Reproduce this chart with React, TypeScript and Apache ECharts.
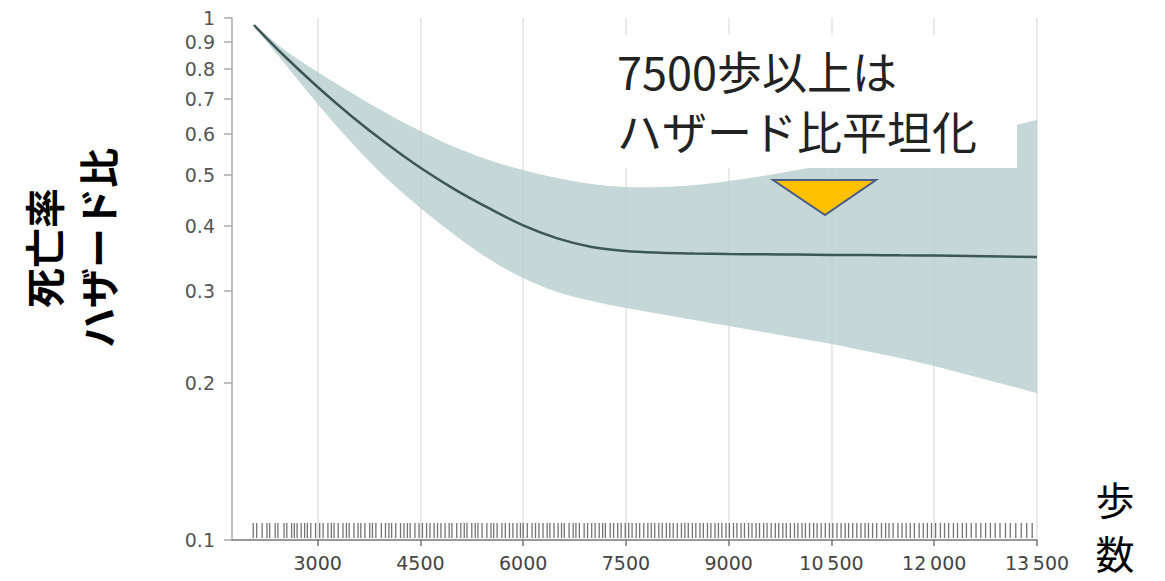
import { useEffect, useRef } from "react";
import * as echarts from "echarts";

// Daily steps (x) and fitted hazard ratio with its 95% confidence band
const steps = [2070, 2500, 3000, 3500, 4000, 4500, 5000, 5500, 6000, 6500, 7000, 7500, 8000, 8500, 9000, 9500, 10000, 10500, 11000, 11500, 12000, 12500, 13000, 13500];
const hazardRatio = [0.9696, 0.8494, 0.7377, 0.6478, 0.5754, 0.5165, 0.4697, 0.4321, 0.4006, 0.3783, 0.3642, 0.3578, 0.3551, 0.3538, 0.353, 0.3527, 0.3522, 0.3517, 0.3515, 0.351, 0.3507, 0.3499, 0.3491, 0.3484];
const upperCI = [0.972, 0.8722, 0.788, 0.7185, 0.6579, 0.6076, 0.566, 0.5344, 0.5113, 0.4936, 0.4808, 0.4745, 0.4745, 0.4787, 0.4872, 0.4981, 0.5113, 0.5251, 0.5416, 0.5586, 0.5762, 0.5942, 0.6156, 0.6378];
const lowerCI = [0.967, 0.8235, 0.6844, 0.5762, 0.4936, 0.4325, 0.384, 0.3454, 0.3177, 0.2986, 0.287, 0.2783, 0.271, 0.2639, 0.257, 0.2503, 0.2437, 0.2374, 0.2302, 0.2232, 0.2154, 0.207, 0.199, 0.1912];

// Individual observations shown as a rug along the bottom
const rugSteps = [
  2060, 2110, 2190, 2260, 2300, 2380, 2420, 2510, 2550, 2620, 2660, 2700, 2760, 2810, 2850, 2900, 2970, 3030, 3080, 3150,
  3200, 3240, 3300, 3370, 3420, 3460, 3530, 3590, 3630, 3690, 3760, 3800, 3850, 3930, 3990, 4040, 4080, 4140, 4210, 4260,
  4310, 4350, 4420, 4480, 4530, 4590, 4640, 4700, 4750, 4800, 4860, 4920, 4960, 5030, 5090, 5140, 5180, 5250, 5300, 5340,
  5400, 5470, 5530, 5570, 5620, 5690, 5740, 5800, 5850, 5910, 5960, 6000, 6060, 6130, 6180, 6230, 6290, 6350, 6390, 6450,
  6510, 6560, 6600, 6670, 6730, 6770, 6820, 6890, 6940, 7000, 7050, 7110, 7160, 7200, 7270, 7320, 7380, 7430, 7490, 7540,
  7590, 7650, 7700, 7760, 7820, 7870, 7920, 7980, 8030, 8090, 8140, 8190, 8250, 8310, 8360, 8410, 8470, 8520, 8580, 8630,
  8690, 8740, 8800, 8850, 8900, 8960, 9010, 9070, 9120, 9180, 9230, 9290, 9340, 9400, 9450, 9510, 9560, 9620, 9680, 9730,
  9790, 9840, 9900, 9960, 10010, 10070, 10120, 10180, 10240, 10290, 10350, 10410, 10470, 10520, 10580, 10640, 10700, 10750,
  10810, 10870, 10930, 10990, 11040, 11100, 11160, 11230, 11290, 11340, 11400, 11470, 11530, 11590, 11650, 11710, 11780,
  11840, 11900, 11960, 12020, 12090, 12150, 12210, 12280, 12340, 12410, 12470, 12540, 12610, 12680, 12750, 12820, 12890,
  12960, 13040, 13110, 13190, 13270, 13350, 13430,
];

const xTicks = [3000, 4500, 6000, 7500, 9000, 10500, 12000, 13500];
const yTicks = [0.1, 0.2, 0.3, 0.4, 0.5, 0.6, 0.7, 0.8, 0.9, 1];
const yTitleLines = ["死亡率", "ハザード比"];
const xTitleChars = ["歩", "数"];
const noteLines = ["7500歩以上は", "ハザード比平坦化"];

const JP = '"Noto Sans CJK JP", "Noto Sans", sans-serif';
const NUM = '"DejaVu Sans", Verdana, sans-serif';
// slightly translucent so the vertical grid lines show faintly through the band
const BAND = "rgba(184,205,206,0.8)";

function formatSteps(v: number): string {
  if (v >= 10000) {
    const th = Math.floor(v / 1000);
    const rest = String(v % 1000).padStart(3, "0");
    return `${th}\u2009${rest}`;
  }
  return String(v);
}

function formatRatio(v: number): string {
  return String(Math.round(v * 10) / 10);
}

export default function App() {
  const ref = useRef<HTMLDivElement>(null);

  useEffect(() => {
    document.body.style.margin = "0";
    const chart = echarts.init(ref.current!, null, { renderer: "svg" });

    const bandData = steps.map((s, i) => [s, lowerCI[i], upperCI[i]]);
    const lineData = steps.map((s, i) => [s, hazardRatio[i]]);
    const rugData = rugSteps.map((s) => [s, 0.1]);

    const graphics: any[] = [
      {
        type: "rect",
        z: 100,
        shape: { x: 608, y: 35, width: 409, height: 133 },
        style: { fill: "#ffffff" },
      },
      {
        type: "polygon",
        z: 101,
        shape: { points: [[773, 180], [876, 180], [825, 215]] },
        style: { fill: "#ffc000", stroke: "#4a5d86", lineWidth: 2 },
      },
    ];
    noteLines.forEach((t, i) => {
      graphics.push({
        type: "text",
        z: 102,
        x: 617,
        y: 70 + i * 60,
        style: {
          text: t,
          fontFamily: JP,
          fontSize: 45,
          fill: "#222",
          textAlign: "left",
          textVerticalAlign: "middle",
        },
      });
    });
    yTitleLines.forEach((t, i) => {
      graphics.push({
        type: "text",
        z: 102,
        x: 43 + i * 54,
        y: 248,
        rotation: Math.PI / 2,
        style: {
          text: t,
          fontFamily: JP,
          fontSize: 40,
          fontWeight: "bold",
          fill: "#000",
          textAlign: "center",
          textVerticalAlign: "middle",
        },
      });
    });
    xTitleChars.forEach((t, i) => {
      graphics.push({
        type: "text",
        z: 102,
        x: 1115,
        y: 498 + i * 54,
        style: {
          text: t,
          fontFamily: JP,
          fontSize: 39,
          fill: "#000",
          textAlign: "center",
          textVerticalAlign: "middle",
        },
      });
    });

    chart.setOption({
      animation: false,
      grid: { left: 232, right: 128, top: 18, bottom: 41, containLabel: false },
      xAxis: {
        type: "value",
        min: 1750,
        max: 13500,
        axisLine: { onZero: false, lineStyle: { color: "#777", width: 1.5 } },
        axisTick: { customValues: xTicks, length: 6, lineStyle: { color: "#777", width: 1.5 } },
        axisLabel: {
          customValues: xTicks,
          formatter: formatSteps,
          color: "#444",
          fontSize: 19,
          fontFamily: NUM,
          margin: 13,
        },
        splitLine: { show: true, lineStyle: { color: "#e3e3e3", width: 1.5 } },
      },
      yAxis: {
        type: "log",
        logBase: 10,
        min: 0.1,
        max: 1,
        axisLine: { show: true, lineStyle: { color: "#aaa", width: 1.5 } },
        axisTick: { show: true, customValues: yTicks, length: 8, lineStyle: { color: "#aaa", width: 1.5 } },
        axisLabel: {
          customValues: yTicks,
          formatter: formatRatio,
          color: "#555",
          fontSize: 19,
          fontFamily: NUM,
          margin: 17,
        },
        splitLine: { show: false },
      },
      series: [
        {
          // confidence band: one closed, smoothed outline through upper then lower bounds
          type: "custom",
          data: bandData,
          silent: true,
          z: 1,
          renderItem: (params: any, api: any) => {
            if (params.dataIndex !== 0) return null;
            const top = bandData.map((d) => api.coord([d[0], d[2]]));
            const bottom = bandData.map((d) => api.coord([d[0], d[1]])).reverse();
            // repeated end points keep the right-hand edge straight
            const points = [...top, top[top.length - 1], bottom[0], ...bottom];
            return {
              type: "polygon",
              shape: { points, smooth: 0.35 },
              style: { fill: BAND },
            };
          },
        },
        {
          type: "line",
          data: lineData,
          smooth: 0.35,
          symbol: "none",
          lineStyle: { color: "#3d5757", width: 2.5 },
          silent: true,
          z: 3,
        },
        {
          type: "custom",
          data: rugData,
          silent: true,
          z: 4,
          renderItem: (_params: any, api: any) => {
            const p = api.coord([api.value(0), 0.1]);
            return {
              type: "line",
              shape: { x1: p[0], y1: p[1] - 2, x2: p[0], y2: p[1] - 17 },
              style: { stroke: "rgba(50,50,50,0.68)", lineWidth: 1.3 },
            };
          },
        },
      ],
      graphic: graphics,
    });

    return () => {
      chart.dispose();
    };
  }, []);

  return <div ref={ref} style={{ width: 1165, height: 581 }} />;
}
